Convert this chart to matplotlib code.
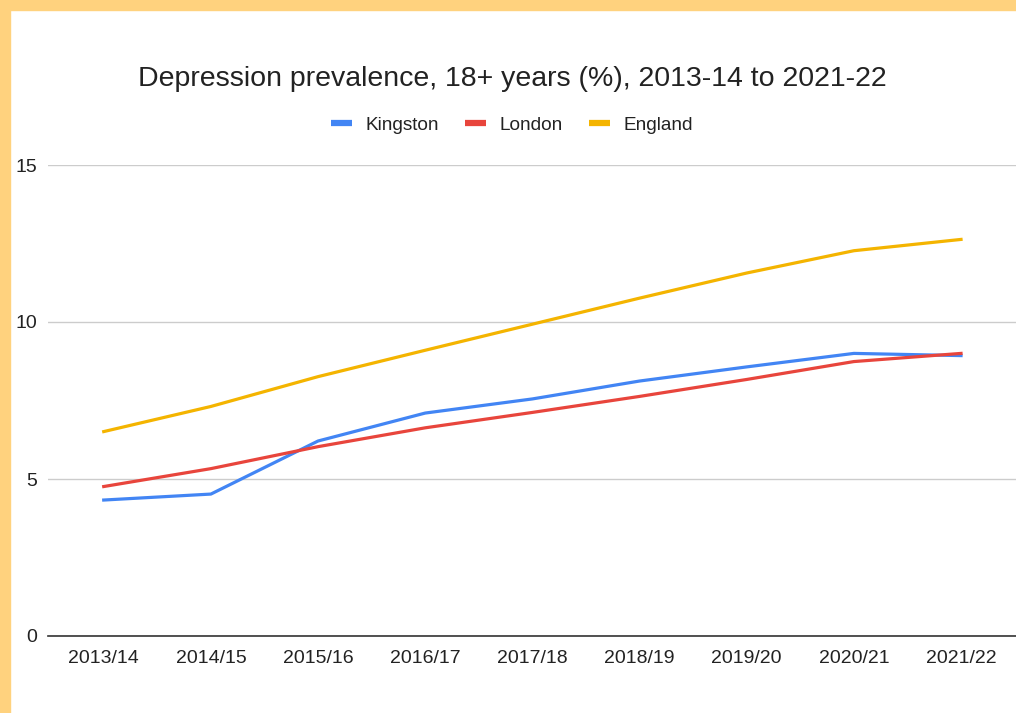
import matplotlib.pyplot as plt
from matplotlib.lines import Line2D
from matplotlib.patches import Rectangle

plt.rcParams["font.family"] = ["Liberation Sans", "DejaVu Sans"]

years = ["2013/14", "2014/15", "2015/16", "2016/17", "2017/18",
         "2018/19", "2019/20", "2020/21", "2021/22"]
kingston = [4.33, 4.52, 6.21, 7.10, 7.55, 8.12, 8.57, 9.00, 8.93]
london = [4.76, 5.33, 6.03, 6.63, 7.12, 7.63, 8.17, 8.74, 9.00]
england = [6.51, 7.31, 8.26, 9.10, 9.93, 10.76, 11.56, 12.27, 12.63]

series = [("Kingston", kingston, "#4285F4"),
          ("London", london, "#E8453C"),
          ("England", england, "#F4B400")]

W, H = 1016, 713
fig = plt.figure(figsize=(W / 100, H / 100), dpi=100, facecolor="white")

# orange frame along the left and top edges
border = "#FFD27E"
fig.patches.append(Rectangle((0, 0), 10 / W, 1, transform=fig.transFigure,
                             color=border, zorder=0))
fig.patches.append(Rectangle((0, 1 - 10 / H), 1, 10 / H, transform=fig.transFigure,
                             color=border, zorder=0))

ax = fig.add_axes([48 / W, 1 - 636 / H, 1 - 48 / W, (636 - 165) / H])
ax.set_facecolor("none")

x = range(len(years))
for name, vals, col in series:
    ax.plot(x, vals, color=col, lw=2.3, solid_joinstyle="round", zorder=3)

ax.set_xlim(-0.52, len(years) - 1 + 0.513)
ax.set_ylim(0, 15)
ax.set_yticks([0, 5, 10, 15])
ax.set_xticks(list(x))
ax.set_xticklabels(years)
ax.grid(axis="y", color="#cccccc", lw=1)
ax.set_axisbelow(True)
for s in ["top", "right", "left"]:
    ax.spines[s].set_visible(False)
ax.spines["bottom"].set_color("#333333")
ax.spines["bottom"].set_linewidth(1.2)
ax.spines["bottom"].set_zorder(4)
ax.tick_params(axis="both", length=0, labelsize=14, colors="#222222")
ax.tick_params(axis="y", pad=8)
ax.tick_params(axis="x", pad=10)
for lab in ax.get_yticklabels():
    lab.set_clip_on(False)

fig.text(512 / W, 1 - 79 / H, "Depression prevalence, 18+ years (%), 2013-14 to 2021-22",
         ha="center", va="center", fontsize=20.5, color="#222222")

handles = [Line2D([0], [0], color=c, lw=4.5, solid_capstyle="butt") for _, _, c in series]
fig.legend(handles, [n for n, _, _ in series], loc="center",
           bbox_to_anchor=(512 / W, 1 - 125 / H), ncol=3, frameon=False,
           fontsize=13.7, handlelength=1.1, handletextpad=0.7, columnspacing=1.4,
           labelcolor="#222222")

fig.savefig("out.png", dpi=100, facecolor=fig.get_facecolor())
